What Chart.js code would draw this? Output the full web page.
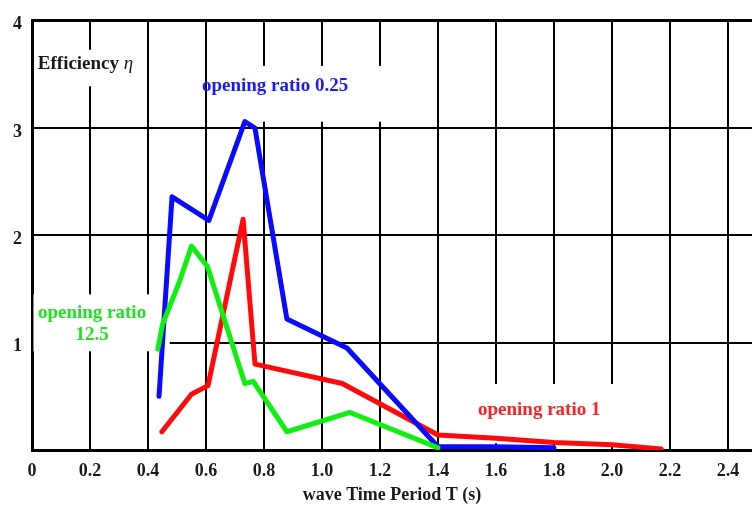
<!DOCTYPE html>
<html>
<head>
<meta charset="utf-8">
<script src="https://cdn.jsdelivr.net/npm/chart.js@4.4.1/dist/chart.umd.min.js"></script>
<style>
  html, body { margin: 0; padding: 0; background: #fff; }
  #wrap { width: 752px; height: 510px; }
</style>
</head>
<body>
<div id="wrap"><canvas id="effChart" width="752" height="510"></canvas></div>
<script>
// wave period T (s) / efficiency for each opening ratio
const periodRatio025 = [0.438, 0.483, 0.61, 0.734, 0.769, 0.879, 1.086, 1.4, 1.6, 1.8];
const effRatio025    = [0.50, 2.36, 2.14, 3.06, 3.00, 1.22, 0.95, 0.03, 0.03, 0.02];

const periodRatio1 = [0.448, 0.55, 0.607, 0.728, 0.769, 1.07, 1.4, 1.6, 1.8, 2.0, 2.17];
const effRatio1    = [0.17, 0.52, 0.60, 2.15, 0.80, 0.62, 0.14, 0.11, 0.07, 0.05, 0.01];

const periodRatio125 = [0.434, 0.45, 0.51, 0.55, 0.605, 0.734, 0.763, 0.879, 1.097, 1.4];
const effRatio125    = [0.94, 1.17, 1.58, 1.90, 1.71, 0.62, 0.64, 0.17, 0.35, 0.02];

const xTicks = [0, 0.2, 0.4, 0.6, 0.8, 1.0, 1.2, 1.4, 1.6, 1.8, 2.0, 2.2, 2.4];
const xTickLabels = ['0', '0.2', '0.4', '0.6', '0.8', '1.0', '1.2', '1.4', '1.6', '1.8', '2.0', '2.2', '2.4'];
const yTicks = [1, 2, 3, 4];
const yTickLabels = ['1', '2', '3', '4'];

const toPoints = (xs, ys) => xs.map((x, i) => ({ x: x, y: ys[i] }));

const serif = "'Liberation Serif', 'Times New Roman', serif";

// white boxes behind the in-plot labels (they break the grid lines), in data units
const labelBoxes = [
  { x0: 0.01, x1: 0.38, y0: 3.39, y1: 3.73 },
  { x0: 0.66, x1: 1.25, y0: 3.06, y1: 3.58 },
  { x0: 0.005, x1: 0.475, y0: 0.92, y1: 1.45 },
  { x0: 1.45, x1: 2.1, y0: 0.064, y1: 0.615 }
];

const labelTexts = [
  { text: 'opening ratio 0.25', x: 0.586, y: 3.39, color: '#1a1aff', align: 'left' },
  { text: 'opening ratio', x: 0.207, y: 1.28, color: '#22e022', align: 'center' },
  { text: '12.5', x: 0.207, y: 1.07, color: '#22e022', align: 'center' },
  { text: 'opening ratio 1', x: 1.538, y: 0.37, color: '#ff2020', align: 'left' }
];

const labelPlugin = {
  id: 'plotLabels',
  beforeDatasetsDraw(chart) {
    const { ctx, scales: { x, y } } = chart;
    ctx.save();
    ctx.fillStyle = '#fff';
    labelBoxes.forEach(b => {
      const px0 = x.getPixelForValue(b.x0), px1 = x.getPixelForValue(b.x1);
      const py0 = y.getPixelForValue(b.y1), py1 = y.getPixelForValue(b.y0);
      ctx.fillRect(px0, py0, px1 - px0, py1 - py0);
    });
    ctx.font = 'bold 19px ' + serif;
    ctx.textBaseline = 'middle';
    labelTexts.forEach(t => {
      ctx.fillStyle = t.color;
      ctx.textAlign = t.align;
      ctx.fillText(t.text, x.getPixelForValue(t.x), y.getPixelForValue(t.y));
    });
    // axis name, with italic eta
    ctx.fillStyle = '#1a1a1a';
    ctx.textAlign = 'left';
    const ex = x.getPixelForValue(0.02), ey = y.getPixelForValue(3.6);
    const word = 'Efficiency ';
    ctx.fillText(word, ex, ey);
    const w = ctx.measureText(word).width;
    ctx.font = 'italic 19px ' + serif;
    ctx.fillText('η', ex + w, ey);
    ctx.restore();
  }
};

new Chart(document.getElementById('effChart'), {
  type: 'line',
  data: {
    datasets: [
      {
        label: 'opening ratio 0.25',
        data: toPoints(periodRatio025, effRatio025),
        borderColor: '#0a0aff',
        order: 1
      },
      {
        label: 'opening ratio 1',
        data: toPoints(periodRatio1, effRatio1),
        borderColor: '#ff0a0a',
        order: 2
      },
      {
        label: 'opening ratio 12.5',
        data: toPoints(periodRatio125, effRatio125),
        borderColor: '#10f010',
        order: 0
      }
    ]
  },
  options: {
    responsive: false,
    animation: false,
    devicePixelRatio: 1,
    layout: { padding: { top: 14, right: 0, left: 0, bottom: 0 } },
    elements: {
      line: { borderWidth: 5, tension: 0, borderJoinStyle: 'round', borderCapStyle: 'round', fill: false },
      point: { radius: 0, hoverRadius: 0 }
    },
    plugins: {
      legend: { display: false },
      tooltip: { enabled: false }
    },
    scales: {
      x: {
        type: 'linear',
        min: 0,
        max: 2.483,
        afterBuildTicks: s => { s.ticks = xTicks.map(v => ({ value: v })); },
        afterFit: s => { s.height = 60; },
        ticks: {
          callback: v => xTickLabels[xTicks.indexOf(v)],
          font: { family: serif, size: 18, weight: 'bold' },
          color: '#1a1a1a',
          padding: 11,
          maxRotation: 0,
          autoSkip: false
        },
        grid: { color: '#000', lineWidth: 2, drawTicks: false },
        border: { color: '#000', width: 3 },
        title: {
          display: true,
          text: 'wave Time Period T (s)',
          font: { family: serif, size: 18, weight: 'bold' },
          color: '#1a1a1a',
          padding: { top: 0, bottom: 4 }
        }
      },
      y: {
        min: 0,
        max: 4,
        afterBuildTicks: s => { s.ticks = yTicks.map(v => ({ value: v })); },
        afterFit: s => { s.width = 32; },
        ticks: {
          callback: v => yTickLabels[yTicks.indexOf(v)],
          font: { family: serif, size: 18, weight: 'bold' },
          color: '#1a1a1a',
          padding: 10,
          labelOffset: 4
        },
        grid: {
          color: '#000',
          lineWidth: c => (c.tick && c.tick.value === 4 ? 3 : 2),
          drawTicks: false
        },
        border: { color: '#000', width: 3 }
      }
    }
  },
  plugins: [labelPlugin]
});
</script>
</body>
</html>
